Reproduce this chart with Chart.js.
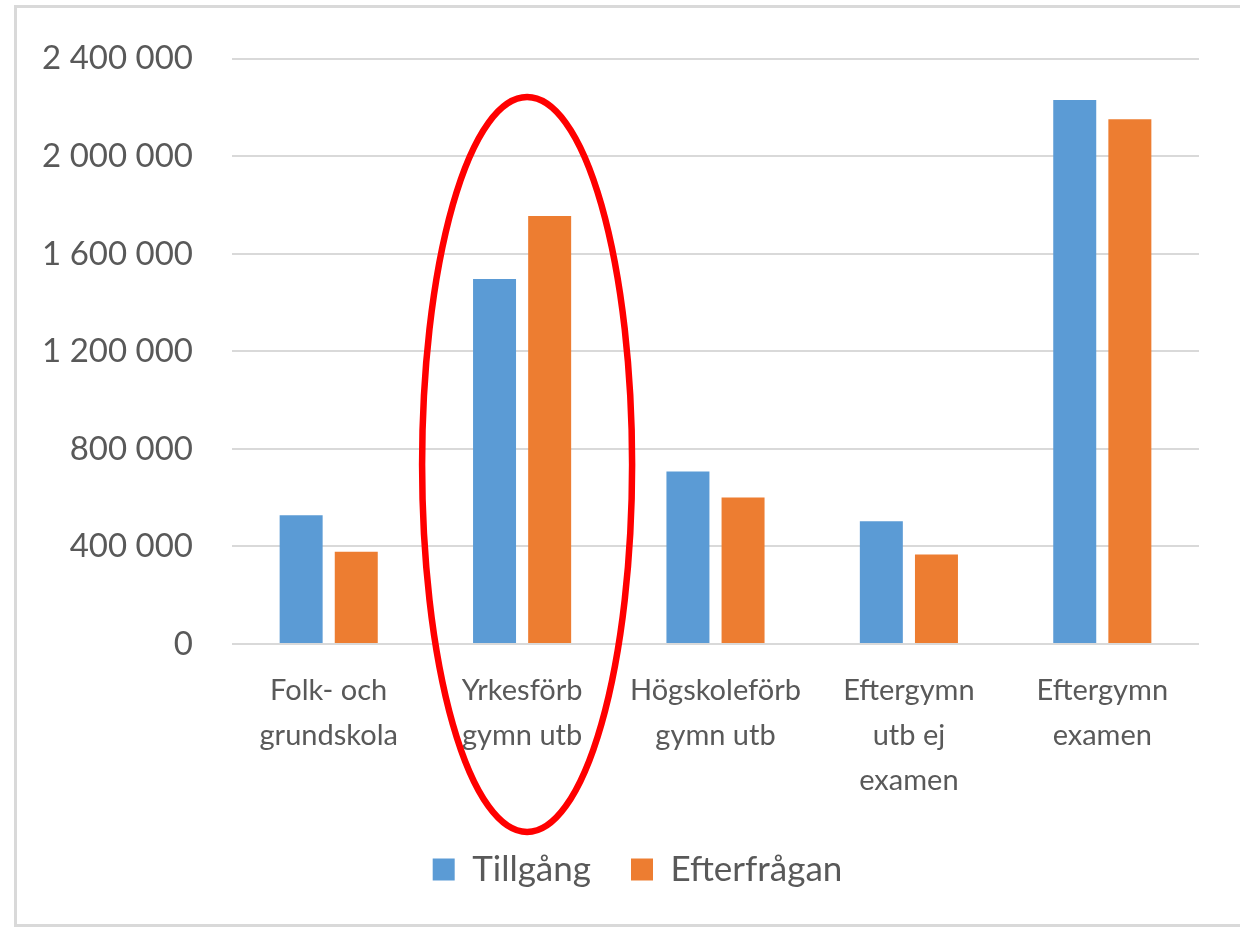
<!DOCTYPE html>
<html>
<head>
<meta charset="utf-8">
<script src="https://cdn.jsdelivr.net/npm/chart.js@4.4.1/dist/chart.umd.min.js"></script>
<style>
  html, body { margin: 0; padding: 0; background: #fff; }
  #frame { position: absolute; left: 14px; top: 5px; width: 1240px; height: 922px; border: 3px solid #d9d9d9; box-sizing: border-box; }
  #chart { position: absolute; left: 0; top: 0; }
</style>
</head>
<body>
<div id="frame"></div>
<canvas id="chart" width="1240" height="932"></canvas>
<script>
const categories = [
  ["Folk- och", "grundskola"],
  ["Yrkesförb", "gymn utb"],
  ["Högskoleförb", "gymn utb"],
  ["Eftergymn", "utb ej", "examen"],
  ["Eftergymn", "examen"]
];
const seriesNames = ["Tillgång", "Efterfrågan"];
const tillgang = [528000, 1497000, 707000, 503000, 2231000];
const efterfragan = [378000, 1755000, 601000, 367000, 2152000];
const yMin = 0;
const yMax = 2400000;
const yStep = 400000;
const highlightIndex = 1;

const textColor = "#595959";
const fontFamily = "Lato, 'Open Sans', sans-serif";

function formatNumber(v) {
  return String(v).replace(/\B(?=(\d{3})+(?!\d))/g, " ");
}

// red ellipse around the highlighted category
const ellipsePlugin = {
  id: "ellipse",
  afterDatasetsDraw(chart) {
    const ctx = chart.ctx;
    const cx = chart.scales.x.getPixelForValue(highlightIndex) + 5;
    const top = 97, bottom = 832;
    ctx.save();
    ctx.beginPath();
    ctx.ellipse(cx, (top + bottom) / 2, 105, (bottom - top) / 2, 0, 0, Math.PI * 2);
    ctx.strokeStyle = "#ff0000";
    ctx.lineWidth = 6.5;
    ctx.stroke();
    ctx.restore();
  }
};

// legend sits a bit right of the canvas centre in the original
const legendShift = {
  id: "legendShift",
  beforeDraw(chart) {
    if (chart.legend) chart.legend.left = 76;
  }
};

new Chart(document.getElementById("chart"), {
  type: "bar",
  data: {
    labels: categories,
    datasets: [
      {
        label: seriesNames[0],
        data: tillgang,
        backgroundColor: "#5b9bd5",
        categoryPercentage: 0.57,
        barPercentage: 0.78
      },
      {
        label: seriesNames[1],
        data: efterfragan,
        backgroundColor: "#ed7d31",
        categoryPercentage: 0.57,
        barPercentage: 0.78
      }
    ]
  },
  options: {
    responsive: false,
    animation: false,
    layout: { padding: { left: 0, right: 41, top: 57, bottom: 35 } },
    plugins: {
      tooltip: { enabled: false },
      legend: {
        position: "bottom",
        labels: {
          color: textColor,
          font: { family: fontFamily, size: 35 },
          boxWidth: 22,
          boxHeight: 22,
          padding: 40
        }
      }
    },
    scales: {
      x: {
        grid: { display: false },
        border: { display: false },
        ticks: {
          color: textColor,
          font: { family: fontFamily, size: 29, lineHeight: 1.55 },
          maxRotation: 0,
          autoSkip: false,
          padding: 16
        },
        afterFit(scale) { scale.height = 168; }
      },
      y: {
        min: yMin,
        max: yMax,
        grid: { color: "#d9d9d9", lineWidth: 2, drawTicks: false },
        border: { display: false },
        ticks: {
          stepSize: yStep,
          color: textColor,
          font: { family: fontFamily, size: 33 },
          padding: 39,
          callback: (v) => formatNumber(v)
        },
        afterFit(scale) { scale.width = 232; }
      }
    }
  },
  plugins: [ellipsePlugin, legendShift]
});
</script>
</body>
</html>
